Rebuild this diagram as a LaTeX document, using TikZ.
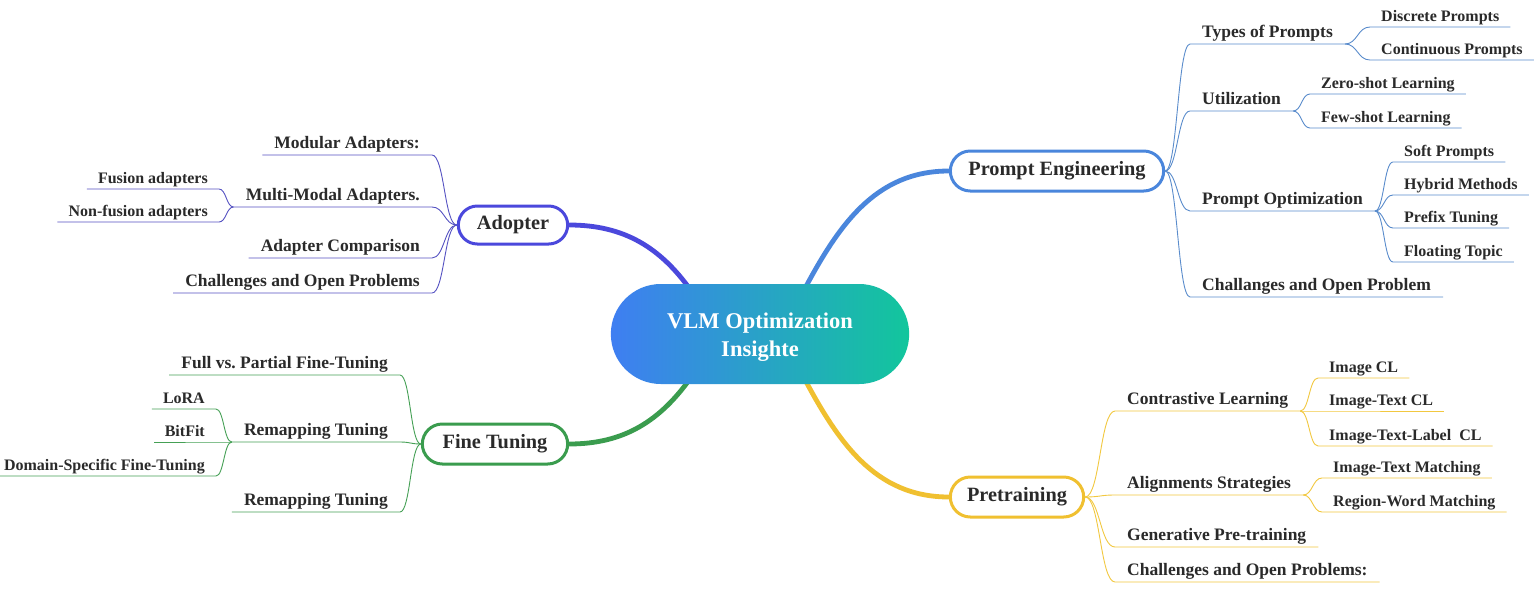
\documentclass[tikz,border=0pt]{standalone}
\usepackage{fontspec}
\setmainfont{Liberation Serif}
\usetikzlibrary{calc,backgrounds,shapes.misc}
\definecolor{txt}{HTML}{2A2A2A}
\definecolor{pecol}{HTML}{4A86DC}
\definecolor{adcol}{HTML}{4B48DC}
\definecolor{ftcol}{HTML}{3A9C4E}
\definecolor{prcol}{HTML}{F0C030}
\definecolor{pethin}{HTML}{5A8CCC}
\definecolor{adthin}{HTML}{5552C2}
\definecolor{ftthin}{HTML}{45A055}
\definecolor{prthin}{HTML}{F2C840}
\definecolor{cleft}{HTML}{3F7EF2}
\definecolor{cright}{HTML}{12C69C}
\tikzset{
  hc/.style={to path={.. controls ($(\tikztostart)!0.5!(\tikztotarget|-\tikztostart)$) and ($(\tikztotarget)!0.5!(\tikztostart|-\tikztotarget)$) .. (\tikztotarget) \tikztonodes}},
  lvltwo/.style={font=\fontsize{17.5}{19}\selectfont\bfseries, text=txt, inner xsep=12pt, inner ysep=2pt, text height=12.5pt, text depth=4pt},
  leafnode/.style={font=\fontsize{16}{18}\selectfont\bfseries, text=txt, inner xsep=11pt, inner ysep=2pt, text height=11.5pt, text depth=3.7pt},
  rtwo/.style={lvltwo, anchor=south west},
  ltwo/.style={lvltwo, anchor=south east},
  rleaf/.style={leafnode, anchor=south west},
  lleaf/.style={leafnode, anchor=south east},
  mainpill/.style={rounded rectangle, draw, line width=3pt, fill=white, minimum height=40pt, text=txt, font=\fontsize{20.3}{22}\selectfont\bfseries},
  thin/.style={line width=0.9pt},
  thick/.style={line width=4.8pt, line cap=round},
}
\begin{document}
\begin{tikzpicture}[x=1pt,y=1pt]
\useasboundingbox (0,0) rectangle (1534,-589);

% center
\node[rounded rectangle, left color=cleft, right color=cright, minimum width=305pt, minimum height=100pt, text=white, align=center, text height=49pt, text depth=4.9pt, font=\fontsize{22.5}{28}\selectfont\bfseries] (c) at (760,-334) {VLM Optimization\\Insighte};

% main topics
\node[mainpill, draw=pecol, minimum width=220pt] (pe) at (1057,-171) {Prompt Engineering};
\node[mainpill, draw=adcol, minimum width=116pt, minimum height=38pt] (ad) at (513,-225) {Adopter};
\node[mainpill, draw=ftcol, minimum width=152pt] (ftn) at (495,-444) {Fine Tuning};
\node[mainpill, draw=prcol, minimum width=140pt] (pr) at (1017,-497) {Pretraining};

\coordinate (cad) at (692,-292);
\coordinate (cpe) at (803,-292);
\coordinate (cft) at (692,-376);
\coordinate (cpr) at (803,-376);

\begin{pgfonlayer}{background}
\fill[white] (0,0) rectangle (1534,-589);
\draw[thick, adcol] (cad) to[out=125,in=0] (ad.east);
\draw[thick, pecol] (cpe) to[out=62,in=180] (pe.west);
\draw[thick, ftcol] (cft) to[out=-125,in=0] (ftn.east);
\draw[thick, prcol] (cpr) to[out=-62,in=180] (pr.west);
\end{pgfonlayer}

% Prompt Engineering branch
\node[rtwo] (tp) at (1190,-44) {Types of Prompts};
\node[rleaf] (dp) at (1370,-27) {Discrete Prompts};
\node[rleaf] (cp) at (1370,-60) {Continuous Prompts};
\node[rtwo] (ut) at (1190,-111) {Utilization};
\node[rleaf] (zs) at (1310,-94) {Zero-shot Learning};
\node[rleaf] (fs) at (1310,-128) {Few-shot Learning};
\node[rtwo] (po) at (1190,-211) {Prompt Optimization};
\node[rleaf] (sp) at (1393,-162) {Soft Prompts};
\node[rleaf] (hm) at (1393,-195) {Hybrid Methods};
\node[rleaf] (ptu) at (1393,-228) {Prefix Tuning};
\node[rleaf] (flt) at (1393,-262) {Floating Topic};
\node[rtwo] (cop) at (1190,-297) {Challanges and Open Problem};

\begin{scope}[thin, pethin]
\foreach \n in {tp,ut,po,cop} \draw (pe.east) to[hc] (\n.south west) -- (\n.south east);
\foreach \n in {dp,cp} \draw (tp.south east) to[hc] (\n.south west) -- (\n.south east);
\foreach \n in {zs,fs} \draw (ut.south east) to[hc] (\n.south west) -- (\n.south east);
\foreach \n in {sp,hm,ptu,flt} \draw (po.south east) to[hc] (\n.south west) -- (\n.south east);
\end{scope}

% Pretraining branch
\node[rtwo] (cl) at (1115,-411) {Contrastive Learning};
\node[rleaf] (icl) at (1318,-378) {Image CL};
\node[rleaf] (itcl) at (1318,-411) {Image-Text CL};
\node[rleaf] (itlcl) at (1318,-446) {Image-Text-Label\ \ CL};
\node[rtwo] (als) at (1115,-495) {Alignments Strategies};
\node[rleaf] (itm) at (1322,-478) {Image-Text Matching};
\node[rleaf] (rwm) at (1322,-512) {Region-Word Matching};
\node[rtwo] (gpt) at (1115,-547) {Generative Pre-training};
\node[rtwo] (cpp) at (1115,-582) {Challenges and Open Problems:};

\begin{scope}[thin, prthin]
\foreach \n in {cl,als,gpt,cpp} \draw (pr.east) to[hc] (\n.south west) -- (\n.south east);
\foreach \n in {icl,itcl,itlcl} \draw (cl.south east) to[hc] (\n.south west) -- (\n.south east);
\foreach \n in {itm,rwm} \draw (als.south east) to[hc] (\n.south west) -- (\n.south east);
\end{scope}

% Adopter branch
\node[ltwo] (ma) at (432,-155) {Modular Adapters:};
\node[ltwo] (mm) at (432,-207) {Multi-Modal Adapters.};
\node[lleaf] (fa) at (219,-189) {Fusion adapters};
\node[lleaf] (nfa) at (219,-222) {Non-fusion adapters};
\node[ltwo] (acp) at (432,-258) {Adapter Comparison};
\node[ltwo] (cap) at (432,-293) {Challenges and Open Problems};

\begin{scope}[thin, adthin]
\foreach \n in {ma,mm,acp,cap} \draw (ad.west) to[hc] (\n.south east) -- (\n.south west);
\foreach \n in {fa,nfa} \draw (mm.south west) to[hc] (\n.south east) -- (\n.south west);
\end{scope}

% Fine Tuning branch
\node[ltwo] (fvp) at (400,-375) {Full vs.\ Partial Fine-Tuning};
\node[ltwo] (rta) at (400,-442) {Remapping Tuning};
\node[lleaf] (lora) at (216,-409) {LoRA};
\node[lleaf] (bfit) at (216,-442) {BitFit};
\node[lleaf] (dsf) at (216,-476) {Domain-Specific Fine-Tuning};
\node[ltwo] (rtb) at (400,-512) {Remapping Tuning};

\begin{scope}[thin, ftthin]
\foreach \n in {fvp,rta,rtb} \draw (ftn.west) to[hc] (\n.south east) -- (\n.south west);
\foreach \n in {lora,bfit,dsf} \draw (rta.south west) to[hc] (\n.south east) -- (\n.south west);
\end{scope}
\end{tikzpicture}
\end{document}
